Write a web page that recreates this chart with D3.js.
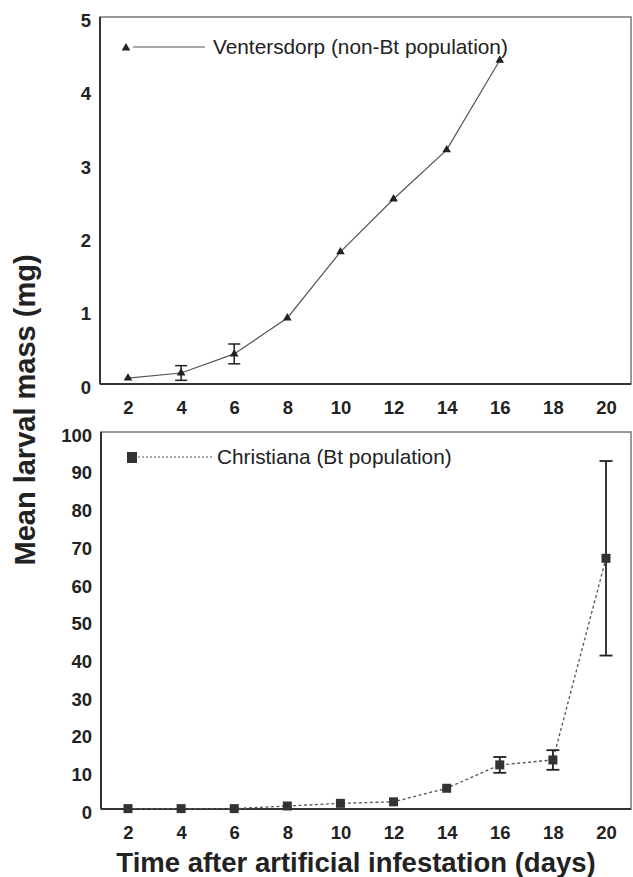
<!DOCTYPE html>
<html>
<head>
<meta charset="utf-8">
<script src="https://cdn.jsdelivr.net/npm/d3@7"></script>
<style>
  html, body { margin: 0; padding: 0; background: #fff; }
  svg { display: block; }
</style>
</head>
<body>
<svg id="chart" width="633" height="877"></svg>
<script>
// ---- data ----
const xTicks = [2, 4, 6, 8, 10, 12, 14, 16, 18, 20];
const topYTicks = [0, 1, 2, 3, 4, 5];
const bottomYTicks = [0, 10, 20, 30, 40, 50, 60, 70, 80, 90, 100];

const ventDays = [2, 4, 6, 8, 10, 12, 14, 16];
const ventMass = [0.08, 0.15, 0.41, 0.90, 1.80, 2.52, 3.19, 4.41];
const ventErrDays = [4, 6];
const ventErr = [0.10, 0.135];

const chrisDays = [2, 4, 6, 8, 10, 12, 14, 16, 18, 20];
const chrisMass = [0.1, 0.1, 0.1, 0.8, 1.5, 1.9, 5.5, 11.7, 13.0, 66.5];
const chrisErrDays = [16, 18, 20];
const chrisErr = [2.1, 2.6, 25.8];

const legendTop = "Ventersdorp (non-Bt population)";
const legendBottom = "Christiana (Bt population)";
const yTitle = "Mean larval mass (mg)";
const xTitle = "Time after artificial infestation (days)";

// ---- drawing ----
const svg = d3.select("#chart");
const FONT = "'Liberation Sans', Arial, Helvetica, sans-serif";
svg.append("rect").attr("width", 633).attr("height", 877).attr("fill", "#fff");

const x = d3.scaleLinear().domain([2, 20]).range([128, 606]);

function panel(cfg) {
  const { left, right, top, bottom, yDomain, yTicks } = cfg;
  const y = d3.scaleLinear().domain(yDomain).range([bottom, top]);
  const g = svg.append("g");

  g.append("rect")
    .attr("x", left).attr("y", top)
    .attr("width", right - left).attr("height", bottom - top)
    .attr("fill", "none").attr("stroke", "#777").attr("stroke-width", 1.5);
  g.append("line").attr("x1", left).attr("x2", left).attr("y1", top).attr("y2", bottom)
    .attr("stroke", "#333").attr("stroke-width", 2);
  g.append("line").attr("x1", left).attr("x2", right).attr("y1", bottom).attr("y2", bottom)
    .attr("stroke", "#333").attr("stroke-width", 2);

  const ya = g.append("g").attr("transform", `translate(${left},0)`)
    .call(d3.axisLeft(y).tickValues(yTicks).tickSize(0).tickPadding(9).tickFormat(d3.format("d")));
  ya.select(".domain").remove();
  ya.selectAll("text").attr("font-family", FONT).attr("font-size", 18.5).attr("font-weight", "bold")
    .attr("fill", "#222").attr("dy", "0.5em");

  const xa = g.append("g").attr("transform", `translate(0,${bottom})`)
    .call(d3.axisBottom(x).tickValues(xTicks).tickSize(0).tickPadding(17).tickFormat(d3.format("d")));
  xa.select(".domain").remove();
  xa.selectAll("text").attr("font-family", FONT).attr("font-size", 18.5).attr("font-weight", "bold")
    .attr("fill", "#222");

  return { g, y };
}

// ---- top panel ----
const P1 = panel({ left: 100, right: 631, top: 17, bottom: 384, yDomain: [0, 5], yTicks: topYTicks });
const vData = ventDays.map((d, i) => ({ x: d, y: ventMass[i] }));
P1.g.append("path").datum(vData)
  .attr("d", d3.line().x(d => x(d.x)).y(d => P1.y(d.y)))
  .attr("fill", "none").attr("stroke", "#555").attr("stroke-width", 1.2);
ventErrDays.forEach((d, i) => {
  const m = ventMass[ventDays.indexOf(d)];
  const y1 = P1.y(m - ventErr[i]), y2 = P1.y(m + ventErr[i]);
  const cx = x(d);
  P1.g.append("line").attr("x1", cx).attr("x2", cx).attr("y1", y1).attr("y2", y2).attr("stroke", "#222").attr("stroke-width", 1.5);
  [y1, y2].forEach(yy => P1.g.append("line").attr("x1", cx - 6).attr("x2", cx + 6).attr("y1", yy).attr("y2", yy).attr("stroke", "#222").attr("stroke-width", 1.5));
});
const tri = d3.symbol().type(d3.symbolTriangle).size(32);
P1.g.selectAll(".tri").data(vData).join("path")
  .attr("transform", d => `translate(${x(d.x)},${P1.y(d.y)})`)
  .attr("d", tri).attr("fill", "#222");

P1.g.append("path").attr("transform", "translate(126,48)").attr("d", tri).attr("fill", "#222");
P1.g.append("line").attr("x1", 133).attr("x2", 205).attr("y1", 47).attr("y2", 47).attr("stroke", "#555").attr("stroke-width", 1.2);
P1.g.append("text").attr("x", 213).attr("y", 54).text(legendTop)
  .attr("font-family", FONT).attr("font-size", 20.8).attr("fill", "#222");

// ---- bottom panel ----
const P2 = panel({ left: 101, right: 631, top: 432, bottom: 809, yDomain: [0, 100], yTicks: bottomYTicks });
const cData = chrisDays.map((d, i) => ({ x: d, y: chrisMass[i] }));
P2.g.append("path").datum(cData)
  .attr("d", d3.line().x(d => x(d.x)).y(d => P2.y(d.y)))
  .attr("fill", "none").attr("stroke", "#555").attr("stroke-width", 1.3).attr("stroke-dasharray", "3,2.5");
chrisErrDays.forEach((d, i) => {
  const m = chrisMass[chrisDays.indexOf(d)];
  const y1 = P2.y(m - chrisErr[i]), y2 = P2.y(m + chrisErr[i]);
  const cx = x(d);
  P2.g.append("line").attr("x1", cx).attr("x2", cx).attr("y1", y1).attr("y2", y2).attr("stroke", "#222").attr("stroke-width", 1.8);
  [y1, y2].forEach(yy => P2.g.append("line").attr("x1", cx - 6.5).attr("x2", cx + 6.5).attr("y1", yy).attr("y2", yy).attr("stroke", "#222").attr("stroke-width", 1.8));
});
P2.g.selectAll(".sq").data(cData).join("rect")
  .attr("x", d => x(d.x) - 4.5).attr("y", d => P2.y(d.y) - 4.5)
  .attr("width", 9).attr("height", 9).attr("fill", "#333");

P2.g.append("rect").attr("x", 127).attr("y", 452).attr("width", 10).attr("height", 11).attr("fill", "#333");
P2.g.append("line").attr("x1", 138).attr("x2", 212).attr("y1", 457).attr("y2", 457)
  .attr("stroke", "#555").attr("stroke-width", 1.2).attr("stroke-dasharray", "2,2");
P2.g.append("text").attr("x", 217).attr("y", 464).text(legendBottom)
  .attr("font-family", FONT).attr("font-size", 20.8).attr("fill", "#222");

// ---- titles ----
svg.append("text")
  .attr("transform", "translate(35,410) rotate(-90)")
  .attr("text-anchor", "middle")
  .attr("font-family", FONT).attr("font-size", 29).attr("font-weight", "bold").attr("fill", "#222")
  .text(yTitle);
svg.append("text")
  .attr("x", 356).attr("y", 872)
  .attr("text-anchor", "middle")
  .attr("font-family", FONT).attr("font-size", 27.5).attr("font-weight", "bold").attr("fill", "#222")
  .text(xTitle);
</script>
</body>
</html>
